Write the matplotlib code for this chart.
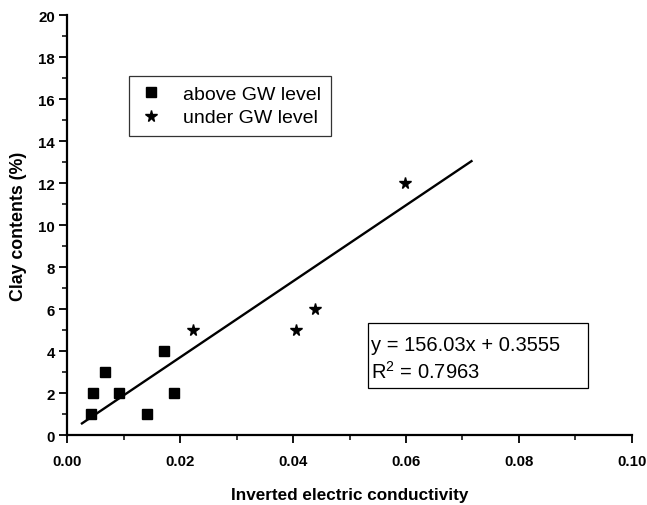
import matplotlib
matplotlib.use('Agg')
from matplotlib import pyplot as plt
from matplotlib.ticker import MultipleLocator
from matplotlib.patches import Rectangle

plt.rcParams['font.family'] = ['Liberation Sans', 'DejaVu Sans']
plt.rcParams['mathtext.default'] = 'regular'

# above GW level
above_x = [0.0042, 0.0046, 0.0066, 0.0091, 0.0141, 0.0172, 0.0189]
above_y = [1, 2, 3, 2, 1, 4, 2]

# under GW level
under_x = [0.0222, 0.0406, 0.0439, 0.0598]
under_y = [5, 5, 6, 12]

# fitted line as drawn
fit_x = [0.0026, 0.0716]
fit_y = [0.56, 13.05]

eq_lines = ['y = 156.03x + 0.3555', 'R$^2$ = 0.7963']

fig = plt.figure(figsize=(6.47, 5.06), dpi=100)
ax = fig.add_axes([0.104, 0.138, 0.8725, 0.830])

ax.plot(above_x, above_y, 's', color='black', markersize=7.5, label='above GW level')
ax.plot(under_x, under_y, '*', color='black', markersize=8.5, label='under GW level')
ax.plot(fit_x, fit_y, '-', color='black', linewidth=1.7)

ax.set_xlim(0, 0.10)
ax.set_ylim(0, 20)
ax.xaxis.set_major_locator(MultipleLocator(0.02))
ax.xaxis.set_minor_locator(MultipleLocator(0.01))
ax.yaxis.set_major_locator(MultipleLocator(2))
ax.yaxis.set_minor_locator(MultipleLocator(1))
ax.xaxis.set_major_formatter(plt.FormatStrFormatter('%.2f'))

ax.spines['top'].set_visible(False)
ax.spines['right'].set_visible(False)
ax.spines['left'].set_linewidth(1.6)
ax.spines['bottom'].set_linewidth(1.6)
ax.tick_params(which='major', direction='out', length=5.5, width=1.3, labelsize=10.8)
ax.tick_params(axis='x', which='major', pad=8)
ax.tick_params(which='minor', direction='out', length=3.5, width=1.1)
for lbl in ax.get_xticklabels() + ax.get_yticklabels():
    lbl.set_fontweight('bold')

ax.set_xlabel('Inverted electric conductivity', fontsize=12.3, fontweight='bold', labelpad=14)
ax.set_ylabel('Clay contents (%)', fontsize=12.8, fontweight='bold', labelpad=8)

leg = ax.legend(loc='upper left', bbox_to_anchor=(0.109, 0.856), fontsize=14,
                frameon=True, fancybox=False, edgecolor='black', handletextpad=1.0,
                borderpad=0.5, labelspacing=0.3, handlelength=1.3, borderaxespad=0)
leg.get_frame().set_linewidth(0.9)

# equation box
ax.add_patch(Rectangle((0.533, 0.112), 0.390, 0.155, transform=ax.transAxes,
                       facecolor='white', edgecolor='black', linewidth=0.9, zorder=3))
ax.text(0.0538, 4.33, eq_lines[0], fontsize=14.5, va='center', ha='left', zorder=4)
ax.text(0.0538, 3.06, eq_lines[1], fontsize=14.5, va='center', ha='left', zorder=4)

fig.savefig('out.png', dpi=100)
